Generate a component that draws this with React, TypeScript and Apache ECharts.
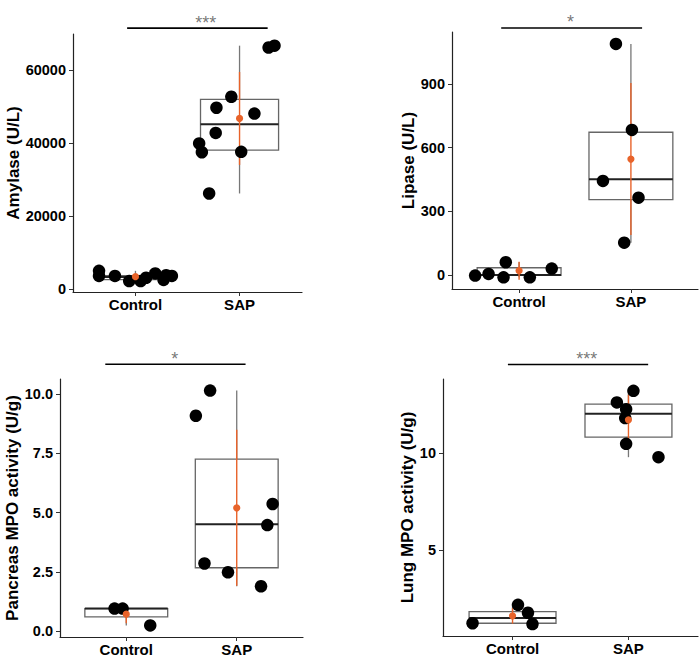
import React, { useEffect, useRef } from 'react';
import * as echarts from 'echarts';

const categories = ['Control', 'SAP'];

// Amylase (U/L)
const amylaseControlValues = [5000, 3600, 3600, 2200, 2200, 3100, 4300, 2500, 3800, 3600];
const amylaseControlJitter = [-0.35, -0.35, -0.197, -0.06, 0.05, 0.102, 0.19, 0.27, 0.295, 0.35];
const amylaseSapValues = [39900, 37500, 26200, 42800, 49700, 52700, 37600, 48100, 66200, 66700];
const amylaseSapJitter = [-0.388, -0.362, -0.292, -0.229, -0.222, -0.079, 0.016, 0.143, 0.279, 0.336];
const amylaseBox = [[2200, 2600, 3300, 3700, 5000], [26200, 38100, 45200, 52000, 66700]];
const amylaseMean = [3400, 46760];
const amylaseSd = [900, 12740];
const amylaseTicks = [0, 20000, 40000, 60000];

// Lipase (U/L)
const lipaseControlValues = [-3, 5, 60, -11, -11, 30];
const lipaseControlJitter = [-0.393, -0.273, -0.119, -0.139, 0.096, 0.292];
const lipaseSapValues = [1088, 683, 443, 364, 152];
const lipaseSapJitter = [-0.134, 0.009, -0.25, 0.068, -0.06];
const lipaseBox = [[-11, -2, 0, 34, 60], [152, 355, 451, 672, 1088]];
const lipaseMean = [20, 546];
const lipaseSd = [42, 358];
const lipaseTicks = [0, 300, 600, 900];

// Pancreas MPO activity (U/g)
const pancreasControlValues = [0.95, 0.95, 0.24];
const pancreasControlJitter = [-0.106, -0.033, 0.217];
const pancreasSapValues = [9.08, 10.14, 2.85, 2.48, 1.89, 4.47, 5.36];
const pancreasSapJitter = [-0.37, -0.241, -0.292, -0.079, 0.22, 0.277, 0.325];
const pancreasBox = [[0.24, 0.6, 0.95, 0.95, 0.95], [1.89, 2.67, 4.5, 7.25, 10.14]];
const pancreasMean = [0.71, 5.2];
const pancreasSd = [0.38, 3.29];
const pancreasTicks = [0, 2.5, 5, 7.5, 10];

// Lung MPO activity (U/g)
const lungControlValues = [1.21, 2.16, 1.75, 1.17];
const lungControlJitter = [-0.345, 0.047, 0.133, 0.172];
const lungSapValues = [13.22, 12.62, 12.27, 11.81, 10.48, 9.79];
const lungSapJitter = [0.043, -0.1, -0.02, -0.028, -0.02, 0.259];
const lungBox = [[1.17, 1.21, 1.48, 1.81, 2.16], [9.79, 10.83, 12.03, 12.53, 13.22]];
const lungMean = [1.59, 11.72];
const lungSd = [0.4, 1.3];
const lungTicks = [5, 10];

// Significance annotations: [bar start, bar end], bar level, star position, label
const sigBars = [[0.92, 2.27], [0.84, 2.1], [0.81, 2.08], [0.96, 2.17]];
const sigLevels = [71500, 1163, 11.25, 14.58];
const sigStarX = [1.676, 1.46, 1.44, 1.64];
const sigLabels = ['***', '*', '*', '***'];

const FONT = '"Liberation Sans", Arial, Helvetica, sans-serif';
const ORANGE = '#E8632A';

const panelDefs = [
  {
    title: 'Amylase (U/L)', ctrl: amylaseControlValues, ctrlJ: amylaseControlJitter,
    sap: amylaseSapValues, sapJ: amylaseSapJitter, box: amylaseBox, mean: amylaseMean, sd: amylaseSd,
    ticks: amylaseTicks, min: -800, max: 69900, fmt: (v: number) => String(v), nameGap: 50,
    grid: { left: 73, top: 34, width: 229, height: 258 },
  },
  {
    title: 'Lipase (U/L)', ctrl: lipaseControlValues, ctrlJ: lipaseControlJitter,
    sap: lipaseSapValues, sapJ: lipaseSapJitter, box: lipaseBox, mean: lipaseMean, sd: lipaseSd,
    ticks: lipaseTicks, min: -66, max: 1144, fmt: (v: number) => String(v), nameGap: 32,
    grid: { left: 452, top: 32, width: 246, height: 257 },
  },
  {
    title: 'Pancreas MPO activity (U/g)', ctrl: pancreasControlValues, ctrlJ: pancreasControlJitter,
    sap: pancreasSapValues, sapJ: pancreasSapJitter, box: pancreasBox, mean: pancreasMean, sd: pancreasSd,
    ticks: pancreasTicks, min: -0.25, max: 10.63, fmt: (v: number) => v.toFixed(1), nameGap: 30,
    grid: { left: 60, top: 379, width: 243, height: 258 },
  },
  {
    title: 'Lung MPO activity (U/g)', ctrl: lungControlValues, ctrlJ: lungControlJitter,
    sap: lungSapValues, sapJ: lungSapJitter, box: lungBox, mean: lungMean, sd: lungSd,
    ticks: lungTicks, min: 0.55, max: 13.83, fmt: (v: number) => String(v), nameGap: 25,
    grid: { left: 443, top: 379, width: 255, height: 257 },
  },
];

function buildOption() {
  const grid: any[] = [];
  const xAxis: any[] = [];
  const yAxis: any[] = [];
  const series: any[] = [];

  panelDefs.forEach((p, i) => {
    grid.push({ ...p.grid, containLabel: false });
    xAxis.push({
      type: 'value', gridIndex: i, min: 0.4, max: 2.6,
      splitLine: { show: false },
      axisLine: { show: true, onZero: false, lineStyle: { color: '#222', width: 1.2 } },
      axisTick: { show: true, customValues: [1, 2], length: 4, lineStyle: { color: '#333' } },
      axisLabel: {
        customValues: [1, 2], margin: 5,
        formatter: (v: number) => categories[Math.round(v) - 1] || '',
        color: '#000', fontWeight: 'bold', fontSize: 15, fontFamily: FONT,
      },
    });
    yAxis.push({
      type: 'value', gridIndex: i, min: p.min, max: p.max,
      name: p.title, nameLocation: 'middle', nameGap: p.nameGap, nameRotate: 90,
      nameTextStyle: { color: '#000', fontWeight: 'bold', fontSize: 17, fontFamily: FONT },
      splitLine: { show: false },
      axisLine: { show: true, onZero: false, lineStyle: { color: '#222', width: 1.2 } },
      axisTick: { show: true, customValues: p.ticks, length: 4, lineStyle: { color: '#333' } },
      axisLabel: {
        customValues: p.ticks, margin: 7, formatter: p.fmt,
        color: '#000', fontWeight: 'bold', fontSize: 14.5, fontFamily: FONT,
      },
    });

    // box plots
    series.push({
      type: 'custom', xAxisIndex: i, yAxisIndex: i, z: 1,
      data: p.box.map((b, k) => [k + 1, ...b]),
      encode: { x: 0, y: [1, 2, 3, 4, 5] },
      renderItem: (params: any, api: any) => {
        const x = api.value(0);
        const hw = 0.375;
        const cx = api.coord([x, api.value(2)])[0];
        const yMin = api.coord([x, api.value(1)])[1];
        const yQ1 = api.coord([x, api.value(2)])[1];
        const yMed = api.coord([x, api.value(3)])[1];
        const yQ3 = api.coord([x, api.value(4)])[1];
        const yMax = api.coord([x, api.value(5)])[1];
        const xl = api.coord([x - hw, api.value(2)])[0];
        const xr = api.coord([x + hw, api.value(2)])[0];
        return {
          type: 'group',
          children: [
            { type: 'line', shape: { x1: cx, y1: yMin, x2: cx, y2: yQ1 }, style: { stroke: '#777', lineWidth: 1.3 } },
            { type: 'line', shape: { x1: cx, y1: yQ3, x2: cx, y2: yMax }, style: { stroke: '#777', lineWidth: 1.3 } },
            { type: 'rect', shape: { x: xl, y: yQ3, width: xr - xl, height: yQ1 - yQ3 }, style: { fill: '#fff', stroke: '#666', lineWidth: 1.3 } },
            { type: 'line', shape: { x1: xl, y1: yMed, x2: xr, y2: yMed }, style: { stroke: '#222', lineWidth: 2 } },
          ],
        };
      },
    });

    // SD range (under the points)
    series.push({
      type: 'custom', xAxisIndex: i, yAxisIndex: i, z: 2,
      data: p.mean.map((m, k) => [k + 1, m, p.sd[k]]),
      encode: { x: 0, y: 1 },
      renderItem: (params: any, api: any) => {
        const x = api.value(0);
        const m = api.value(1);
        const s = api.value(2);
        const lo = api.coord([x, m - s]);
        const hi = api.coord([x, m + s]);
        return { type: 'line', shape: { x1: lo[0], y1: lo[1], x2: hi[0], y2: hi[1] }, style: { stroke: ORANGE, lineWidth: 1.4 } };
      },
    });

    // points
    const pts = [
      ...p.ctrl.map((v, k) => [1 + p.ctrlJ[k], v]),
      ...p.sap.map((v, k) => [2 + p.sapJ[k], v]),
    ];
    series.push({
      type: 'scatter', xAxisIndex: i, yAxisIndex: i, z: 3,
      symbolSize: 12.5, itemStyle: { color: '#000', opacity: 1 },
      data: pts,
    });

    // mean point (above the points)
    series.push({
      type: 'scatter', xAxisIndex: i, yAxisIndex: i, z: 5,
      symbolSize: 7.2, itemStyle: { color: ORANGE, opacity: 1 },
      data: p.mean.map((m, k) => [k + 1, m]),
    });

    // significance bar
    series.push({
      type: 'line', xAxisIndex: i, yAxisIndex: i, clip: false, z: 4,
      symbol: 'none', lineStyle: { color: '#000', width: 1.6 },
      data: [[sigBars[i][0], sigLevels[i]], [sigBars[i][1], sigLevels[i]]],
    });
    series.push({
      type: 'scatter', xAxisIndex: i, yAxisIndex: i, clip: false, z: 4,
      symbolSize: 1, itemStyle: { color: 'rgba(0,0,0,0)' },
      label: {
        show: true, position: 'top', distance: -4, formatter: sigLabels[i],
        color: '#555', fontSize: 18, fontFamily: FONT,
      },
      data: [[sigStarX[i], sigLevels[i]]],
    });
  });

  return {
    animation: false,
    backgroundColor: '#fff',
    grid, xAxis, yAxis, series,
  };
}

export default function App() {
  const ref = useRef<HTMLDivElement>(null);
  useEffect(() => {
    if (!ref.current) return;
    const chart = echarts.init(ref.current, undefined, { renderer: 'svg' });
    chart.setOption(buildOption());
    return () => chart.dispose();
  }, []);
  return (
    <div
      ref={ref}
      style={{ position: 'fixed', left: 0, top: 0, width: 700, height: 670, background: '#fff' }}
    />
  );
}
